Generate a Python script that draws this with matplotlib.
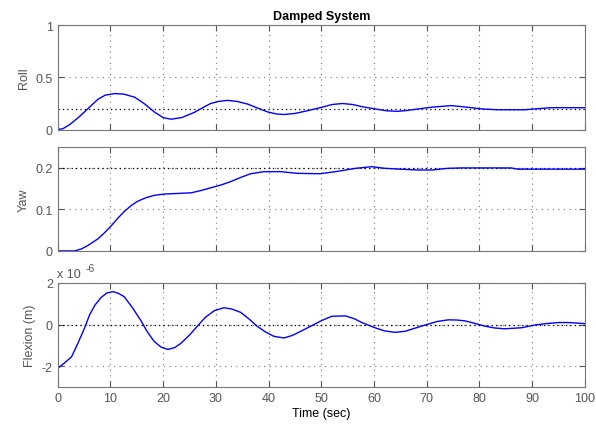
import matplotlib.pyplot as plt

# values
roll_t = [0, 1, 2.3, 4, 5.7, 7.6, 9, 10.8, 12.5, 14.6, 16.5, 18.3, 20, 21.5, 23.5, 25.9,
          27.5, 29, 30.5, 32.2, 34, 36, 38, 39.8, 41.5, 42.9, 45, 47.3, 50.2, 52, 54,
          56, 57.7, 60.2, 62.5, 64.6, 66.5, 68.4, 71, 74.7, 77.6, 80.5, 83.6, 88.6,
          91, 93.6, 100]
roll = [0, 0.01, 0.05, 0.12, 0.2, 0.29, 0.33, 0.345, 0.34, 0.31, 0.245, 0.17, 0.115, 0.10,
        0.115, 0.165, 0.21, 0.25, 0.27, 0.28, 0.27, 0.245, 0.205, 0.17, 0.15, 0.145, 0.155,
        0.18, 0.215, 0.24, 0.25, 0.24, 0.22, 0.198, 0.18, 0.175, 0.185, 0.198, 0.215, 0.23,
        0.215, 0.198, 0.19, 0.19, 0.20, 0.21, 0.21]

yaw_t = [0, 3.2, 4.5, 5.7, 7.6, 8.8, 10.1, 11.4, 12.7, 14, 15.2, 16.7, 18.3, 20.2, 25.3,
         27, 29, 31, 32.8, 34.7, 36.6, 39.1, 42.3, 45.4, 49.8, 52.7, 56.5, 59.6, 62.1,
         65, 68.4, 71, 74, 76.6, 86, 87.3, 100]
yaw = [0, 0, 0.005, 0.013, 0.029, 0.043, 0.060, 0.079, 0.096, 0.110, 0.12, 0.128, 0.134,
       0.137, 0.14, 0.145, 0.152, 0.159, 0.167, 0.177, 0.186, 0.191, 0.191, 0.187, 0.186,
       0.191, 0.199, 0.203, 0.199, 0.197, 0.195, 0.195, 0.199, 0.2, 0.2, 0.197, 0.197]

# flexion in units of 1e-6 m
flex_t = [0, 1.2, 2.6, 3.8, 5.1, 6, 7, 8.2, 9.3, 10.5, 11.5, 12.6, 14.2, 15.8, 17, 18.3,
          19.6, 20.9, 22.2, 23.4, 25, 26.5, 28, 29.7, 31.5, 33, 34.7, 36.3, 37.8, 39.4,
          41, 42.9, 44.5, 46.1, 48.2, 50.2, 52, 54.6, 56.3, 57.7, 60.2, 62, 64, 65.9,
          67.8, 69.7, 72, 74.1, 75.8, 77.3, 79, 81, 82.9, 84.8, 88, 90.5, 92.7, 94.9,
          97, 100]
flex = [-2.1, -1.85, -1.55, -0.9, -0.15, 0.45, 0.92, 1.3, 1.52, 1.58, 1.5, 1.34, 0.8, 0.18,
        -0.35, -0.81, -1.08, -1.19, -1.1, -0.89, -0.5, -0.07, 0.35, 0.67, 0.81, 0.75, 0.59,
        0.27, -0.07, -0.35, -0.56, -0.64, -0.52, -0.32, -0.05, 0.21, 0.4, 0.42, 0.28, 0.1,
        -0.15, -0.3, -0.37, -0.32, -0.17, -0.02, 0.15, 0.23, 0.22, 0.18, 0.07, -0.07, -0.16,
        -0.2, -0.15, -0.02, 0.05, 0.1, 0.1, 0.05]

refs = [0.2, 0.2, 0.0]
ylims = [(0, 1), (0, 0.25), (-3, 2)]
yticks = [[0, 0.5, 1], [0, 0.1, 0.2], [-2, 0, 2]]
ytick_labels = [['0', '0.5', '1'], ['0', '0.1', '0.2'], ['-2', '0', '2']]
ylabels = ['Roll', 'Yaw', 'Flexion (m)']
xticks = list(range(0, 101, 10))

plt.rcParams['font.family'] = ['Liberation Sans', 'DejaVu Sans']
plt.rcParams['font.size'] = 9
gray = '#555555'

fig = plt.figure(figsize=(5.96, 4.27), dpi=100)
boxes = [[0.097, 0.694, 0.884, 0.245],
         [0.097, 0.410, 0.884, 0.243],
         [0.097, 0.091, 0.884, 0.244]]
series = [(roll_t, roll), (yaw_t, yaw), (flex_t, flex)]

for i in range(3):
    ax = fig.add_axes(boxes[i])
    t, v = series[i]
    ax.set_xlim(0, 100)
    ax.set_ylim(*ylims[i])
    ax.set_xticks(xticks)
    ax.set_yticks(yticks[i])
    ax.set_yticklabels(ytick_labels[i])
    ax.grid(True, color='#777777', linestyle=(0, (1, 4)), linewidth=0.8)
    ax.axhline(refs[i], color='black', linestyle=(0, (1, 2.5)), linewidth=0.9)
    ax.plot(t, v, color='#0000ff', linewidth=1.0)
    ax.tick_params(direction='in', top=True, right=True, length=4,
                   colors=gray, labelcolor=gray, width=0.8)
    for s in ax.spines.values():
        s.set_color('#777777')
        s.set_linewidth(0.8)
    ax.set_ylabel(ylabels[i], color=gray)
    if i < 2:
        ax.set_xticklabels([])
    else:
        ax.set_xlabel('Time (sec)', color='black', labelpad=2)
        ax.text(-0.002, 1.03, 'x 10', transform=ax.transAxes, color=gray,
                ha='left', va='bottom')
        ax.text(0.052, 1.10, '-6', transform=ax.transAxes, color=gray,
                ha='left', va='bottom', fontsize=7.5)
    if i == 0:
        ax.set_title('Damped System', fontweight='bold', fontsize=9, pad=4)

fig.savefig('out.png', dpi=100, facecolor='white')
